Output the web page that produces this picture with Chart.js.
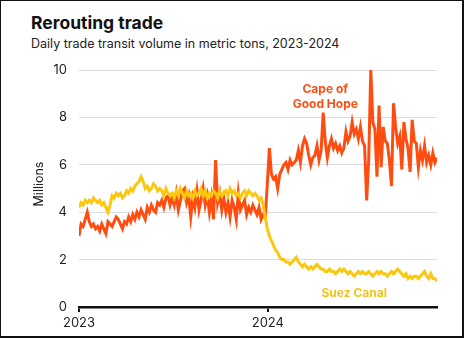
<!DOCTYPE html>
<html>
<head>
<meta charset="utf-8">
<script src="https://cdn.jsdelivr.net/npm/chart.js@4/dist/chart.umd.min.js"></script>
<style>
  html, body { margin: 0; padding: 0; background: #fff; }
  #wrap { position: relative; width: 464px; height: 338px; box-sizing: border-box; border: 1px solid #111; border-right-width: 2px; border-bottom-width: 2px; overflow: hidden; font-family: Inter, "Noto Sans", sans-serif; }
  #title { position: absolute; left: 30px; top: 11px; font-size: 17.5px; font-weight: 700; color: #111; }
  #subtitle { position: absolute; left: 30px; top: 35px; font-size: 12.5px; color: #222; }
  canvas { position: absolute; left: -1px; top: -1px; }
</style>
</head>
<body>
<div id="wrap">
  <div id="title">Rerouting trade</div>
  <div id="subtitle">Daily trade transit volume in metric tons, 2023-2024</div>
  <canvas id="chart" width="464" height="338"></canvas>
</div>
<script>
// data, one value every 4 days starting 1 Jan 2023 (millions of tons)
const stepDays = 4;
const xTickDays = [0, 365];
const xTickLabels = ['2023', '2024'];
const yTicks = [0, 2, 4, 6, 8, 10];

const suezCanal = [
  4.2, 4.4, 4.3, 4.5, 4.4, 4.5, 4.4, 4.6, 4.5, 4.4,
  4.5, 4.3, 4.4, 4.2, 4.0, 4.3, 4.7, 4.6, 4.8, 4.7,
  4.8, 4.6, 4.7, 4.9, 4.8, 5.0, 4.9, 5.1, 5.2, 5.3,
  5.5, 5.3, 5.0, 5.1, 4.9, 5.0, 5.2, 5.1, 4.9, 5.0,
  4.9, 4.7, 5.0, 4.8, 4.7, 4.8, 4.6, 4.9, 4.7, 5.0,
  4.8, 4.6, 4.9, 4.7, 4.8, 4.6, 4.9, 4.7, 4.8, 5.0,
  4.7, 4.9, 4.6, 4.8, 4.7, 4.9, 4.8, 4.6, 4.9, 4.7,
  4.8, 4.9, 4.7, 5.0, 4.8, 4.9, 4.7, 4.8, 4.6, 4.8,
  4.9, 4.7, 4.9, 4.8, 4.7, 4.8, 4.7, 4.5, 4.6, 4.3,
  3.8, 3.3, 3.0, 2.8, 2.6, 2.4, 2.3, 2.1, 2.0, 2.0,
  1.9, 1.9, 1.8, 1.9, 2.0, 2.1, 1.9, 1.8, 1.7, 1.8,
  1.7, 1.6, 1.7, 1.6, 1.7, 1.8, 1.7, 1.6, 1.6, 1.5,
  1.5, 1.6, 1.5, 1.5, 1.4, 1.5, 1.6, 1.5, 1.6, 1.5,
  1.4, 1.5, 1.4, 1.3, 1.4, 1.5, 1.4, 1.5, 1.4, 1.4,
  1.5, 1.4, 1.3, 1.4, 1.5, 1.4, 1.5, 1.4, 1.4, 1.3,
  1.4, 1.5, 1.4, 1.5, 1.6, 1.5, 1.4, 1.3, 1.4, 1.2,
  1.3, 1.2, 1.3, 1.3, 1.2, 1.3, 1.4, 1.5, 1.3, 1.2,
  1.4, 1.2, 1.2, 1.1
];

const capeOfGoodHope = [
  3.0, 3.5, 3.4, 3.7, 4.0, 3.6, 3.4, 3.5, 3.3, 3.4,
  3.2, 3.5, 3.3, 3.1, 3.6, 3.5, 3.4, 3.6, 3.8, 3.7,
  3.5, 3.3, 3.6, 3.5, 3.8, 3.6, 3.9, 3.7, 4.0, 3.8,
  4.1, 3.9, 3.7, 4.2, 4.0, 4.3, 4.1, 4.0, 4.4, 4.3,
  4.5, 4.2, 4.6, 4.7, 4.3, 4.6, 4.3, 4.8, 4.1, 4.5,
  4.9, 5.0, 4.4, 4.7, 3.8, 4.6, 4.2, 4.9, 4.1, 4.5,
  5.0, 4.3, 4.7, 4.0, 4.6, 3.7, 6.2, 4.4, 4.8, 4.1,
  4.6, 4.0, 4.4, 3.8, 4.5, 4.2, 3.7, 4.8, 4.1, 4.3,
  4.5, 3.9, 4.2, 4.0, 4.3, 4.1, 3.9, 4.2, 3.7, 3.9,
  3.8, 5.2, 6.7, 5.6, 5.4, 5.5, 5.0, 5.6, 5.8, 6.0,
  6.1, 5.8, 6.2, 6.0, 6.1, 6.2, 6.6, 6.1, 6.8, 7.1,
  6.9, 6.4, 6.0, 6.3, 6.4, 6.8, 6.2, 6.6, 8.2, 7.0,
  6.3, 6.8, 7.1, 6.7, 6.9, 6.6, 6.8, 6.5, 6.7, 7.4,
  7.0, 7.2, 7.8, 7.3, 7.5, 7.1, 7.6, 7.0, 6.8, 4.5,
  6.2, 10.0, 7.8, 7.5, 5.5, 8.5, 5.9, 7.6, 7.0, 6.9,
  6.2, 5.1, 8.6, 7.6, 6.9, 7.2, 5.8, 7.8, 7.1, 6.7,
  5.7, 7.9, 7.0, 6.9, 5.9, 6.6, 6.2, 6.8, 6.1, 6.4,
  6.0, 6.5, 6.1, 6.3
];

const capeColor = '#ff4d12';
const suezColor = '#fbc80f';

// text labels placed in data units (day, value)
const seriesLabels = [
  { lines: ['Cape of', 'Good Hope'], day: 476, value: 9.2, color: capeColor },
  { lines: ['Suez Canal'], day: 532, value: 0.58, color: '#f4c417' }
];

function toPoints(values) {
  return values.map((v, i) => ({ x: i * stepDays, y: v }));
}

// extra texts: axis caption and the series labels
const textPlugin = {
  id: 'texts',
  afterDraw(chart) {
    const ctx = chart.ctx;
    const xs = chart.scales.x, ys = chart.scales.y;
    ctx.save();
    ctx.fillStyle = '#222';
    ctx.font = '12.5px Inter, "Noto Sans", sans-serif';
    ctx.textAlign = 'center';
    ctx.textBaseline = 'middle';
    ctx.translate(39, 184);
    ctx.rotate(-Math.PI / 2);
    ctx.fillText('Millions', 0, 0);
    ctx.restore();

    ctx.save();
    ctx.font = 'bold 12px Inter, "Noto Sans", sans-serif';
    ctx.textAlign = 'center';
    ctx.textBaseline = 'middle';
    seriesLabels.forEach(lab => {
      ctx.fillStyle = lab.color;
      const px = xs.getPixelForValue(lab.day);
      const py = ys.getPixelForValue(lab.value);
      lab.lines.forEach((t, k) => ctx.fillText(t, px, py + k * 15));
    });
    ctx.restore();
  }
};

const ctx = document.getElementById('chart').getContext('2d');
new Chart(ctx, {
  type: 'line',
  data: {
    datasets: [
      {
        label: 'Suez Canal',
        data: toPoints(suezCanal),
        borderColor: suezColor,
        borderWidth: 3,
        pointRadius: 0,
        tension: 0
      },
      {
        label: 'Cape of Good Hope',
        data: toPoints(capeOfGoodHope),
        borderColor: capeColor,
        borderWidth: 3,
        pointRadius: 0,
        tension: 0
      }
    ]
  },
  options: {
    responsive: false,
    animation: false,
    layout: { padding: { left: 0, top: 70, right: 27, bottom: 0 } },
    plugins: {
      legend: { display: false },
      tooltip: { enabled: false }
    },
    scales: {
      x: {
        type: 'linear',
        min: 0,
        max: (capeOfGoodHope.length - 1) * stepDays,
        afterBuildTicks: s => { s.ticks = xTickDays.map(v => ({ value: v })); },
        afterFit: s => { s.height = 31; },
        ticks: {
          autoSkip: false,
          maxRotation: 0,
          padding: 3,
          color: '#222',
          font: { family: 'Inter, "Noto Sans", sans-serif', size: 13 },
          callback: v => xTickLabels[xTickDays.indexOf(v)]
        },
        grid: { display: true, drawOnChartArea: false, drawTicks: true, tickLength: 5, color: '#111', lineWidth: 2 },
        border: { display: true, color: '#111', width: 2.5 }
      },
      y: {
        min: 0,
        max: 10,
        afterBuildTicks: s => { s.ticks = yTicks.map(v => ({ value: v })); },
        afterFit: s => { s.width = 79; },
        ticks: {
          padding: 12,
          color: '#222',
          font: { family: 'Inter, "Noto Sans", sans-serif', size: 13 }
        },
        grid: { color: '#dcdcdc', lineWidth: 1, drawTicks: false },
        border: { display: false }
      }
    }
  },
  plugins: [textPlugin]
});
</script>
</body>
</html>
